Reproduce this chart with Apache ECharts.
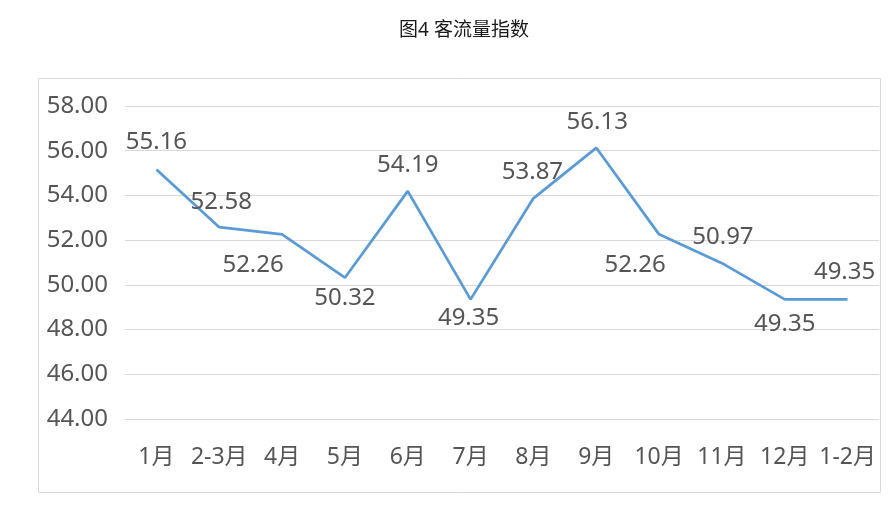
<!DOCTYPE html>
<html>
<head>
<meta charset="utf-8">
<script src="https://cdn.jsdelivr.net/npm/echarts@6/dist/echarts.min.js"></script>
<style>
  html, body { margin: 0; padding: 0; background: #ffffff; }
  #chart { width: 892px; height: 510px; }
</style>
</head>
<body>
<div id="chart"></div>
<script>
// 客流量指数（月度）
const categories = ['1月', '2-3月', '4月', '5月', '6月', '7月', '8月', '9月', '10月', '11月', '12月', '1-2月'];
const indexValues = [55.16, 52.58, 52.26, 50.32, 54.19, 49.35, 53.87, 56.13, 52.26, 50.97, 49.35, 49.35];
const yTicks = { min: 44, max: 58, interval: 2 };

// where each value label sits relative to its point [dx, dy]
const labelOffsets = [
  [0, -27], [2, -25], [-29, 31], [0, 20], [0, -26], [-2, 19],
  [-1, -26], [1, -26], [-24, 31], [1, -26], [0, 25], [-3, -27]
];

const FONT = '"Noto Sans", "Noto Sans CJK SC", sans-serif';
const TEXT = '#555555';

const chart = echarts.init(document.getElementById('chart'), null, { renderer: 'canvas' });

chart.setOption({
  backgroundColor: '#ffffff',
  animation: false,
  title: {
    text: '图4 客流量指数',
    left: 459,
    top: 16,
    textAlign: 'center',
    textStyle: { fontFamily: FONT, fontSize: 19, fontWeight: 'normal', color: '#1a1a1a' }
  },
  graphic: [{
    type: 'rect',
    shape: { x: 38.5, y: 78.5, width: 842, height: 414 },
    style: { fill: 'none', stroke: '#d9d9d9', lineWidth: 1 },
    silent: true,
    z: -1
  }],
  grid: { left: 125, right: 13, top: 106, bottom: 91, containLabel: false },
  xAxis: {
    type: 'category',
    data: categories,
    boundaryGap: true,
    axisLine: { show: false },
    axisTick: { show: false },
    axisLabel: { color: TEXT, fontFamily: FONT, fontSize: 23, margin: 27, interval: 0 }
  },
  yAxis: {
    type: 'value',
    min: yTicks.min,
    max: yTicks.max,
    interval: yTicks.interval,
    axisLine: { show: false },
    axisTick: { show: false },
    splitLine: { lineStyle: { color: '#d9d9d9', width: 1 } },
    axisLabel: {
      color: TEXT, fontFamily: FONT, fontSize: 24, margin: 17,
      formatter: v => v.toFixed(2)
    }
  },
  series: [{
    type: 'line',
    data: indexValues.map((v, i) => ({
      value: v,
      label: { offset: labelOffsets[i] }
    })),
    showSymbol: true,
    symbol: 'circle',
    symbolSize: 0,
    lineStyle: { color: '#5b9bd5', width: 2.75 },
    itemStyle: { color: '#5b9bd5' },
    label: {
      show: true,
      position: 'inside',
      align: 'center',
      verticalAlign: 'middle',
      color: TEXT,
      fontFamily: FONT,
      fontSize: 24,
      formatter: p => p.value.toFixed(2)
    }
  }]
});
</script>
</body>
</html>
